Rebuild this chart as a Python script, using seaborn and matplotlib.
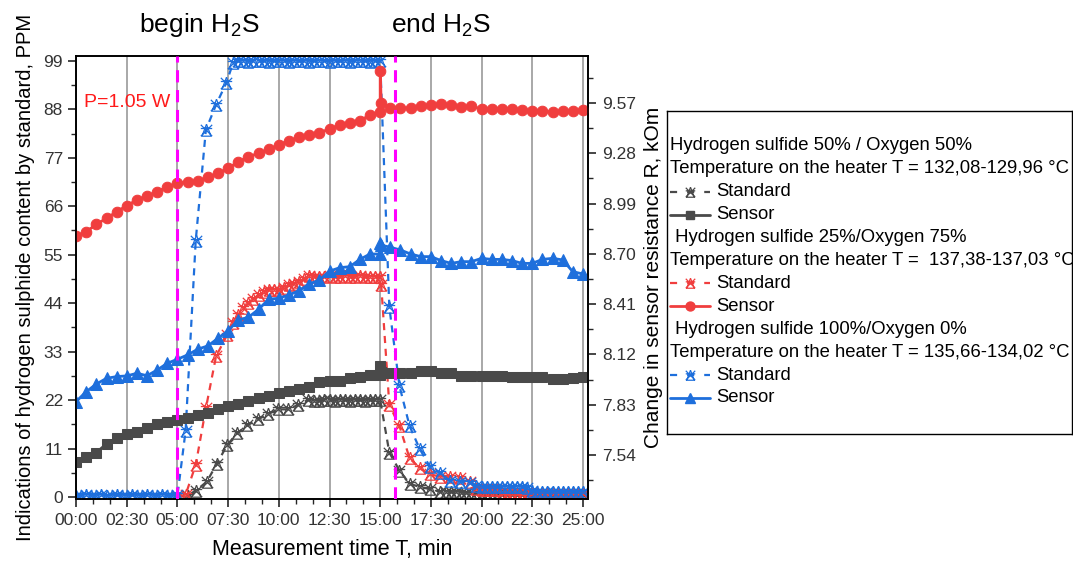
import numpy as np
import pandas as pd
import matplotlib
matplotlib.use("Agg")
import matplotlib.pyplot as plt
from matplotlib.path import Path
from matplotlib.ticker import MultipleLocator, FixedLocator
import seaborn as sns

# ---------------- data ----------------
# Sensor readings (right axis, kOm), sampled every 30 s, with an extra spike sample at 15:00
t_sensor = np.concatenate([np.arange(0, 14.51, 0.5), [15.0, 15.0, 15.05], np.arange(15.5, 25.01, 0.5)])

sensor_red = [8.803, 8.828, 8.870, 8.905, 8.943, 8.978, 9.011, 9.034, 9.058, 9.087,
              9.107, 9.113, 9.120, 9.142, 9.165, 9.193, 9.231, 9.260, 9.280, 9.303,
              9.328, 9.353, 9.372, 9.385, 9.399, 9.420, 9.443, 9.456, 9.468, 9.501,
              9.518, 9.755, 9.572,
              9.543, 9.543, 9.539, 9.555, 9.558, 9.564, 9.558, 9.545, 9.553, 9.534,
              9.535, 9.535, 9.535, 9.530, 9.522, 9.522, 9.518, 9.524, 9.522, 9.530]

sensor_gray = [7.501, 7.527, 7.554, 7.604, 7.636, 7.661, 7.675, 7.694, 7.719, 7.732,
               7.742, 7.752, 7.771, 7.784, 7.804, 7.823, 7.834, 7.853, 7.867, 7.880,
               7.896, 7.909, 7.919, 7.934, 7.963, 7.969, 7.969, 7.982, 7.992, 8.001,
               8.003, 8.053, 8.020,
               8.015, 8.015, 8.011, 8.025, 8.025, 8.011, 8.011, 7.996, 7.996, 7.996,
               7.996, 7.996, 7.988, 7.988, 7.988, 7.988, 7.980, 7.980, 7.982, 7.988]

sensor_blue = [7.848, 7.905, 7.949, 7.982, 7.992, 7.996, 8.011, 7.997, 8.030, 8.069,
               8.092, 8.117, 8.150, 8.169, 8.213, 8.257, 8.319, 8.334, 8.380, 8.438,
               8.444, 8.463, 8.488, 8.526, 8.549, 8.600, 8.620, 8.626, 8.668, 8.699,
               8.699, 8.761, 8.750,
               8.738, 8.722, 8.699, 8.684, 8.684, 8.661, 8.645, 8.655, 8.655, 8.674,
               8.668, 8.668, 8.661, 8.645, 8.645, 8.668, 8.674, 8.665, 8.597, 8.584]

# Standard readings (left axis, PPM)
t_std_blue = np.concatenate([np.arange(0, 5.01, 0.25), [5.4, 5.9, 6.4, 6.9, 7.4],
                             np.arange(7.75, 15.01, 0.25),
                             [15.45, 15.95, 16.45, 16.95, 17.45, 17.95, 18.45, 18.95, 19.45],
                             np.arange(19.75, 25.01, 0.25)])
std_blue = [0.3, 0.3, 0.4, 0.3, 0.3, 0.4, 0.3, 0.3, 0.4, 0.3, 0.3, 0.4, 0.3, 0.3, 0.4, 0.3, 0.3, 0.4, 0.3, 0.3, 0.4,
            15.0, 58.2, 83.3, 89.0, 93.9,
            98.6, 98.9, 99.0, 98.8, 99.0, 98.9, 99.0, 98.8, 99.0, 98.9,
            99.0, 98.8, 99.0, 98.9, 99.0, 98.8, 99.0, 98.9, 99.0, 98.8,
            99.0, 98.9, 99.0, 98.8, 99.0, 98.9, 99.0, 98.8, 99.0, 98.9,
            43.1, 25.2, 16.1, 10.9, 6.9, 5.4, 3.6, 3.5, 3.2,
            2.4, 2.3, 2.3, 2.2, 2.3, 2.3, 2.2, 2.3, 2.3, 2.2, 2.0,
            1.3, 1.2, 1.2, 1.1, 1.2, 1.2, 1.1, 1.2, 1.2, 1.1, 1.2]

t_std_red = np.concatenate([[5.0, 5.4, 5.9, 6.4, 6.9, 7.45], np.arange(7.75, 15.01, 0.25), [15.05],
                            [15.45, 15.95, 16.45, 16.95, 17.45, 17.95, 18.45, 18.95, 19.45],
                            np.arange(19.75, 25.01, 0.25)])
std_red = [0.0, 0.5, 7.3, 20.1, 31.9, 36.8,
           39.5, 41.3, 42.8, 44.0, 45.0, 45.9, 46.5, 47.0, 47.0, 47.0,
           47.4, 48.1, 48.4, 48.9, 49.4, 50.2, 50.0, 49.9, 50.0, 50.2,
           49.9, 50.0, 50.1, 49.9, 50.0, 50.2, 49.9, 50.0, 49.9, 50.0,
           48.1,
           20.9, 16.1, 8.8, 6.5, 5.2, 4.6, 4.5, 4.4, 3.5,
           1.8, 1.6, 1.6, 1.5, 1.6, 0.8, 0.7, 0.6, 0.6, 0.6, 0.6,
           0.6, 0.6, 0.6, 0.6, 0.7, 0.7, 0.7, 0.7, 0.7, 0.7, 0.7]

t_std_gray = np.concatenate([[5.0, 5.5, 5.9, 6.45, 6.95, 7.45, 7.95, 8.45, 8.95, 9.45, 9.95, 10.45, 10.95, 11.45],
                             np.arange(11.75, 15.01, 0.25),
                             [15.45, 15.95, 16.45, 16.95, 17.45, 17.95],
                             np.arange(18.25, 25.01, 0.25)])
std_gray = [0.0, 0.3, 1.4, 3.5, 7.6, 11.8, 14.5, 16.3, 17.6, 18.8, 19.9, 19.9, 20.9, 22.0,
            21.8, 21.8, 22.0, 22.0, 21.9, 22.0, 22.0, 21.9, 22.0, 22.0, 21.9, 22.0, 22.0, 22.0,
            10.1, 6.0, 3.0, 2.3, 1.8, 1.2,
            1.2, 1.1, 1.1, 1.0, 1.0, 0.9, 0.8, 0.7, 0.6, 0.5,
            0.5, 0.5, 0.4, 0.4, 0.4, 0.4, 0.4, 0.4, 0.4, 0.4,
            0.4, 0.4, 0.4, 0.4, 0.4, 0.4, 0.4, 0.4]

event_times = [5.0, 15.75]
event_labels = ["begin H$_2$S", "end H$_2$S"]

x_ticks = np.arange(0, 25.01, 2.5)
left_ticks = [0, 11, 22, 33, 44, 55, 66, 77, 88, 99]
right_ticks = [7.54, 7.83, 8.12, 8.41, 8.70, 8.99, 9.28, 9.57]

legend_groups = [
    ("Hydrogen sulfide 50% / Oxygen 50%", "Temperature on the heater T = 132,08-129,96 \u00b0C"),
    (" Hydrogen sulfide 25%/Oxygen 75%", "Temperature on the heater T =  137,38-137,03 \u00b0C"),
    (" Hydrogen sulfide 100%/Oxygen 0%", "Temperature on the heater T = 135,66-134,02 \u00b0C"),
]

# ---------------- style ----------------
sns.set_theme(style="ticks")
plt.rcParams['font.family'] = ['Liberation Sans', 'DejaVu Sans']
plt.rcParams['mathtext.default'] = 'regular'

GRAY = '#4a4a4a'
RED = '#f03e3e'
BLUE = '#1e6fdc'
MAG = '#ff00ff'

# custom "X" marker (cross with hollow tent)
xm = Path([(-1, -1), (1, 1), (-1, 1), (1, -1), (0, 1.1), (-0.8, -1), (0.8, -1), (0, 1.1),
           (-1, 0.35), (1, 0.35)],
          [Path.MOVETO, Path.LINETO, Path.MOVETO, Path.LINETO,
           Path.MOVETO, Path.LINETO, Path.LINETO, Path.LINETO,
           Path.MOVETO, Path.LINETO])

W, H = 1073, 562
fig = plt.figure(figsize=(W / 100, H / 100), dpi=100)
ax = fig.add_axes([75.5 / W, (H - 499) / H, (588 - 75.5) / W, (499 - 56) / H])
ax2 = ax.twinx()

std_kw = dict(estimator=None, sort=False, linewidth=1.6, linestyle=(0, (3.2, 2.6)),
              marker=xm, markersize=9, markerfacecolor='none', markeredgewidth=0.9)
for tt, vv, c in [(t_std_gray, std_gray, GRAY), (t_std_red, std_red, RED), (t_std_blue, std_blue, BLUE)]:
    sns.lineplot(x=tt, y=vv, ax=ax, color=c, markeredgecolor=c, **std_kw)

sen_kw = dict(estimator=None, sort=False, linewidth=2.0)
sns.lineplot(x=t_sensor, y=sensor_gray, ax=ax2, color=GRAY, marker='s', markersize=6.5,
             markeredgecolor=GRAY, markerfacecolor=GRAY, **sen_kw)
sns.lineplot(x=t_sensor, y=sensor_red, ax=ax2, color=RED, marker='o', markersize=7.6,
             markeredgecolor=RED, markerfacecolor=RED, **sen_kw)
sns.lineplot(x=t_sensor, y=sensor_blue, ax=ax2, color=BLUE, marker='^', markersize=8.5,
             markeredgecolor=BLUE, markerfacecolor=BLUE, **sen_kw)

for et in event_times:
    ax2.axvline(et, color=MAG, lw=2.2, linestyle=(0, (4, 2.5)), zorder=6)

# axes limits
ax.set_xlim(-0.03, 25.25)
ax.set_ylim(-0.45, 100.1)
ax2.set_ylim(7.286, 9.841)

# ticks
def mmss(t):
    m = int(t)
    s = int(round((t - m) * 60))
    return f"{m:02d}:{s:02d}"

ax.set_xticks(x_ticks)
ax.set_xticklabels([mmss(t) for t in x_ticks])
ax.xaxis.set_minor_locator(MultipleLocator(2.5 / 3))
ax.set_yticks(left_ticks)
ax.set_yticklabels([str(v) for v in left_ticks])
ax.yaxis.set_minor_locator(MultipleLocator(5.5))
ax2.set_yticks(right_ticks)
ax2.set_yticklabels([f"{v:.2f}" for v in right_ticks])
ax2.yaxis.set_minor_locator(FixedLocator([7.395, 7.685, 7.975, 8.265, 8.555, 8.845, 9.135, 9.425, 9.715]))

tick_col = '#333333'
ax.tick_params(axis='x', which='major', direction='out', length=6, width=1.2, bottom=True, top=False,
               labelsize=12.5, labelcolor=tick_col, pad=4)
ax.tick_params(axis='x', which='minor', direction='out', length=3.5, width=1.0, bottom=True, top=False)
ax.tick_params(axis='y', which='major', direction='out', length=6, width=1.2, left=True, right=False,
               labelsize=12.5, labelcolor=tick_col, pad=3)
ax.tick_params(axis='y', which='minor', direction='out', length=3.5, width=1.0, left=True, right=False)
ax2.tick_params(axis='y', which='major', direction='out', length=6, width=1.2, right=True, left=False,
                labelsize=12.5, labelcolor=tick_col, pad=4)
ax2.tick_params(axis='y', which='minor', direction='out', length=3.5, width=1.0, right=True, left=False)
ax2.tick_params(axis='x', which='major', direction='in', length=6, width=1.2, top=True, bottom=False,
                labeltop=False, labelbottom=False)
ax2.tick_params(axis='x', which='minor', direction='in', length=3.5, width=1.0, top=True, bottom=False)

for a in (ax, ax2):
    for s in a.spines.values():
        s.set_color('black')
        s.set_linewidth(1.2)

ax.xaxis.grid(True, which='major', color='#a8a8a8', lw=1.4)
ax.yaxis.grid(False)
ax2.grid(False)

ax.set_xlabel("Measurement time T, min", fontsize=15.5, color='black', labelpad=8)
ax.set_ylabel("Indications of hydrogen sulphide content by standard, PPM", fontsize=14.5,
              color='black', labelpad=6)
ax2.set_ylabel("Change in sensor resistance R, kOm", fontsize=15, color='black', labelpad=6)

ax.text(0.017, 0.896, "P=1.05 W", transform=ax.transAxes, color='#ff1a1a', fontsize=14,
        ha='left', va='center')

for xc, lab in zip([199 / W, 441 / W], event_labels):
    fig.text(xc, 1 - 25 / H, lab, ha='center', va='center', fontsize=19, color='black')

# ---------------- legend (manual box) ----------------
lax = fig.add_axes([667 / W, (H - 434) / H, (1072 - 667) / W, (434 - 111) / H])
lax.set_xlim(0, 405)
lax.set_ylim(323, 0)
lax.set_xticks([])
lax.set_yticks([])
lax.set_facecolor('white')
for s in lax.spines.values():
    s.set_color('black')
    s.set_linewidth(1.0)

colors = [GRAY, RED, BLUE]
sens_markers = [('s', 6.5), ('o', 7.6), ('^', 8.5)]
row = 0
y0, dy = 35, 22.9
for (hdr, temp), c, (mk, ms) in zip(legend_groups, colors, sens_markers):
    for txt in (hdr, temp):
        lax.text(3, y0 + dy * row, txt, fontsize=13.3, va='center', ha='left', color='black')
        row += 1
    y = y0 + dy * row
    lax.plot([3, 23, 43], [y, y, y], color=c, lw=1.6, linestyle=(0, (3.2, 4.5)),
             marker=xm, markersize=7.5, markerfacecolor='none', markeredgecolor=c,
             markeredgewidth=0.9, markevery=[1])
    lax.text(49, y, "Standard", fontsize=13.3, va='center', ha='left', color='black')
    row += 1
    y = y0 + dy * row
    lax.plot([3, 23, 43], [y, y, y], color=c, lw=2.0, marker=mk, markersize=ms * 0.85,
             markerfacecolor=c, markeredgecolor=c, markevery=[1])
    lax.text(49, y, "Sensor", fontsize=13.3, va='center', ha='left', color='black')
    row += 1

fig.savefig("out.png", dpi=100)
